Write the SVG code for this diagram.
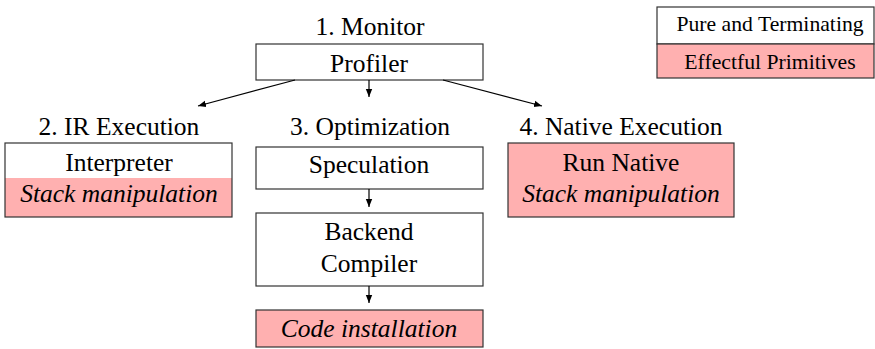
<svg xmlns="http://www.w3.org/2000/svg" width="875" height="349" viewBox="0 0 875 349">
<style>
text{font-family:"Liberation Serif","Times New Roman",serif;fill:#000;text-anchor:middle}
.m{font-size:25.5px}
.l{font-size:21.7px}
.i{font-style:italic}
.box{fill:#fff;stroke:#333;stroke-width:1.2}
.pink{fill:#ffb0b0}
.pbox{fill:#ffb0b0;stroke:#333;stroke-width:1.2}
.c{stroke:#000;stroke-width:1.2;fill:none;marker-end:url(#ah)}
</style>
<defs>
<marker id="ah" viewBox="0 0 10 10" refX="10" refY="5" markerWidth="8" markerHeight="8" markerUnits="userSpaceOnUse" orient="auto">
<path d="M0,1 L10,5 L0,9 z" fill="#000"/>
</marker>
</defs>
<g id="legend">
<rect class="box" x="657" y="7" width="217" height="37"/>
<rect class="pbox" x="657" y="44" width="217" height="34"/>
<text class="l" x="770" y="31">Pure and Terminating</text>
<text class="l" x="770" y="69">Effectful Primitives</text>
</g>
<g id="monitor">
<text class="m" x="370" y="35">1. Monitor</text>
<rect class="box" x="256" y="44" width="227" height="36"/>
<text class="m" x="369" y="72">Profiler</text>
</g>
<g id="ir-execution">
<text class="m" x="119" y="135">2. IR Execution</text>
<rect fill="#fff" x="5" y="143" width="227" height="35"/>
<rect class="pink" x="5" y="178" width="227" height="39"/>
<rect fill="none" stroke="#333" stroke-width="1.2" x="5" y="143" width="227" height="74"/>
<text class="m" x="119" y="171">Interpreter</text>
<text class="m i" x="119" y="202">Stack manipulation</text>
</g>
<g id="optimization">
<text class="m" x="370" y="135">3. Optimization</text>
</g>
<g id="speculation">
<rect class="box" x="256" y="147" width="227" height="42"/>
<text class="m" x="369" y="173">Speculation</text>
</g>
<g id="backend">
<rect class="box" x="256" y="213" width="227" height="73"/>
<text class="m" x="369" y="240">Backend</text>
<text class="m" x="369" y="272">Compiler</text>
</g>
<g id="code-installation">
<rect class="pbox" x="256" y="310" width="227" height="37"/>
<text class="m i" x="369" y="337">Code installation</text>
</g>
<g id="native-execution">
<text class="m" x="621" y="135">4. Native Execution</text>
<rect class="pbox" x="508" y="143" width="226" height="74"/>
<text class="m" x="621" y="171">Run Native</text>
<text class="m i" x="621" y="202">Stack manipulation</text>
</g>
<g id="connectors">
<line class="c" x1="295" y1="80" x2="198" y2="106"/>
<line class="c" x1="369" y1="80" x2="369" y2="97"/>
<line class="c" x1="443" y1="80" x2="542" y2="106"/>
<line class="c" x1="369" y1="189" x2="369" y2="207"/>
<line class="c" x1="369" y1="286" x2="369" y2="303"/>
</g>
</svg>
